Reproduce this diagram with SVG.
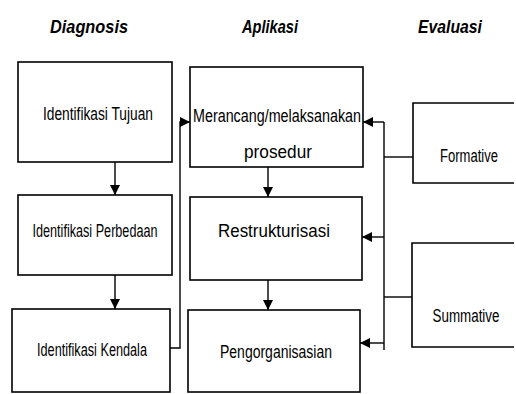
<svg xmlns="http://www.w3.org/2000/svg" width="516" height="394" viewBox="0 0 516 394">
<defs>
<marker id="ah" viewBox="0 0 10 10" refX="10" refY="5" markerWidth="10" markerHeight="10" markerUnits="userSpaceOnUse" orient="auto">
<path d="M0,0 L10,5 L0,10 Z" fill="#000"/>
</marker>
</defs>
<style>
.box{fill:#fff;stroke:#000;stroke-width:1.6}
.t{font-family:"Liberation Sans",Arial,sans-serif;font-size:17.5px;fill:#000;text-anchor:middle}
.h{font-family:"Liberation Sans",Arial,sans-serif;font-size:18px;font-weight:bold;font-style:italic;fill:#000;text-anchor:middle}
.c{fill:none;stroke:#000;stroke-width:1.4}
.a{fill:none;stroke:#000;stroke-width:1.4;marker-end:url(#ah)}
</style>
<rect width="516" height="394" fill="#fff"/>
<g id="headers">
<text class="h" x="89" y="33" textLength="78" lengthAdjust="spacingAndGlyphs">Diagnosis</text>
<text class="h" x="270" y="33" textLength="56" lengthAdjust="spacingAndGlyphs">Aplikasi</text>
<text class="h" x="450" y="33" textLength="64" lengthAdjust="spacingAndGlyphs">Evaluasi</text>
</g>
<g id="connectors">
<path class="a" d="M115,162 V195"/>
<path class="a" d="M115,275 V309"/>
<path class="a" d="M170,348 H180 V122 H190"/>
<path class="a" d="M268,167 V197"/>
<path class="a" d="M268,280 V310"/>
<path class="a" d="M384,122 H363"/>
<path class="c" d="M384,122 V350"/>
<path class="c" d="M384,157 H413"/>
<path class="a" d="M384,237 H362"/>
<path class="c" d="M384,297 H412"/>
<path class="a" d="M384,343 H360"/>
</g>
<g id="n-tujuan">
<rect class="box" x="18" y="62" width="154" height="100"/>
<text class="t" x="98" y="120" textLength="110" lengthAdjust="spacingAndGlyphs">Identifikasi Tujuan</text>
</g>
<g id="n-perbedaan">
<rect class="box" x="18" y="195" width="154" height="80"/>
<text class="t" x="95" y="237" textLength="125" lengthAdjust="spacingAndGlyphs">Identifikasi Perbedaan</text>
</g>
<g id="n-kendala">
<rect class="box" x="12" y="309" width="158" height="83"/>
<text class="t" x="92" y="356" textLength="110" lengthAdjust="spacingAndGlyphs">Identifikasi Kendala</text>
</g>
<g id="n-merancang">
<rect class="box" x="190" y="67" width="173" height="100"/>
<text class="t" x="277" y="122" textLength="168" lengthAdjust="spacingAndGlyphs">Merancang/melaksanakan</text>
<text class="t" x="278" y="158" textLength="68" lengthAdjust="spacingAndGlyphs">prosedur</text>
</g>
<g id="n-restrukturisasi">
<rect class="box" x="190" y="197" width="172" height="83"/>
<text class="t" x="274" y="237" textLength="112" lengthAdjust="spacingAndGlyphs">Restrukturisasi</text>
</g>
<g id="n-pengorganisasian">
<rect class="box" x="188" y="310" width="172" height="82"/>
<text class="t" x="276" y="358" textLength="112" lengthAdjust="spacingAndGlyphs">Pengorganisasian</text>
</g>
<g id="n-formative">
<path class="box" d="M514,103 H413 V183 H514"/>
<text class="t" x="469" y="162" textLength="58" lengthAdjust="spacingAndGlyphs">Formative</text>
</g>
<g id="n-summative">
<path class="box" d="M514,243 H412 V347 H514"/>
<text class="t" x="466" y="322" textLength="67" lengthAdjust="spacingAndGlyphs">Summative</text>
</g>
</svg>
